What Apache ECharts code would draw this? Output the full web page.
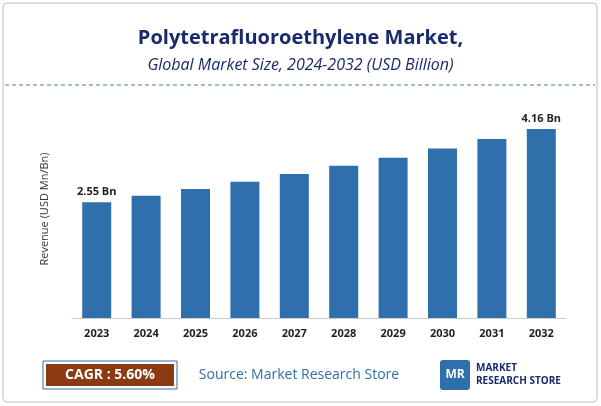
<!DOCTYPE html>
<html><head><meta charset="utf-8">
<script src="https://cdn.jsdelivr.net/npm/echarts@6/dist/echarts.min.js"></script>
<style>html,body{margin:0;padding:0;background:#fff}#c{width:601px;height:406px}</style>
</head><body><div id="c"></div>
<script>
const categories=['2023','2024','2025','2026','2027','2028','2029','2030','2031','2032'];
const values=[2.55,2.69,2.84,3.00,3.17,3.35,3.53,3.73,3.94,4.16];
const labelShown={0:'2.55 Bn',9:'4.16 Bn'};
const chart=echarts.init(document.getElementById('c'));
chart.setOption({
  animation:false,
  grid:{left:72,right:35,top:100,bottom:88},
  title:[{text:'Polytetrafluoroethylene Market,',left:'center',top:23,textStyle:{fontFamily:'Open Sans',fontWeight:'bold',fontSize:20,color:'#1a2a6c'}},
         {text:'Global Market Size, 2024-2032 (USD Billion)',left:'center',top:52,textStyle:{fontFamily:'Open Sans',fontStyle:'italic',fontWeight:'normal',fontSize:16,color:'#1a2a6c'}}],
  xAxis:{type:'category',data:categories,axisTick:{show:false},axisLine:{lineStyle:{color:'#ccc'}},
    axisLabel:{fontFamily:'Open Sans',fontWeight:'bold',fontSize:11,color:'#222',margin:10}},
  yAxis:{type:'value',min:0,max:4.8,axisLabel:{show:false},splitLine:{show:false},
    name:'Revenue (USD Mn/Bn)',nameLocation:'middle',nameGap:22,nameTextStyle:{fontFamily:'Open Sans',fontSize:11,color:'#333'}},
  series:[{type:'bar',data:values,barWidth:29,itemStyle:{color:'#2f6fab'},
    label:{show:true,position:'top',fontFamily:'Open Sans',fontWeight:'bold',fontSize:11,color:'#222',
      formatter:p=>labelShown[p.dataIndex]||''}}],
  graphic:[
    {type:'rect',shape:{x:3,y:3,width:594,height:399,r:4},style:{fill:'none',stroke:'#bbb',lineWidth:1}},
    {type:'line',shape:{x1:5,y1:85,x2:595,y2:85},style:{stroke:'#3a7cc0',lineDash:[4,3],lineWidth:1}},
    {type:'rect',shape:{x:43,y:361,width:134,height:28},style:{fill:'#fff',stroke:'#2f6fab',lineWidth:1}},
    {type:'rect',shape:{x:46,y:364,width:128,height:22},style:{fill:'#8b3a12'}},
    {type:'text',x:110,y:375,style:{text:'CAGR : 5.60%',align:'center',verticalAlign:'middle',fill:'#fff',font:'bold 14px Open Sans'}},
    {type:'text',x:299,y:375,style:{text:'Source: Market Research Store',align:'center',verticalAlign:'middle',fill:'#2f6fab',font:'14px Open Sans'}},
    {type:'rect',shape:{x:440,y:360,width:30,height:30,r:3},style:{fill:'#2f6fab'}},
    {type:'text',x:455,y:375,style:{text:'MR',align:'center',verticalAlign:'middle',fill:'#fff',font:'bold 12px Open Sans'}},
    {type:'text',x:476,y:368,style:{text:'MARKET',verticalAlign:'middle',fill:'#1a2a6c',font:'bold 10px Open Sans'}},
    {type:'text',x:476,y:381,style:{text:'RESEARCH STORE',verticalAlign:'middle',fill:'#1a2a6c',font:'bold 10px Open Sans'}}
  ]
});
</script></body></html>
